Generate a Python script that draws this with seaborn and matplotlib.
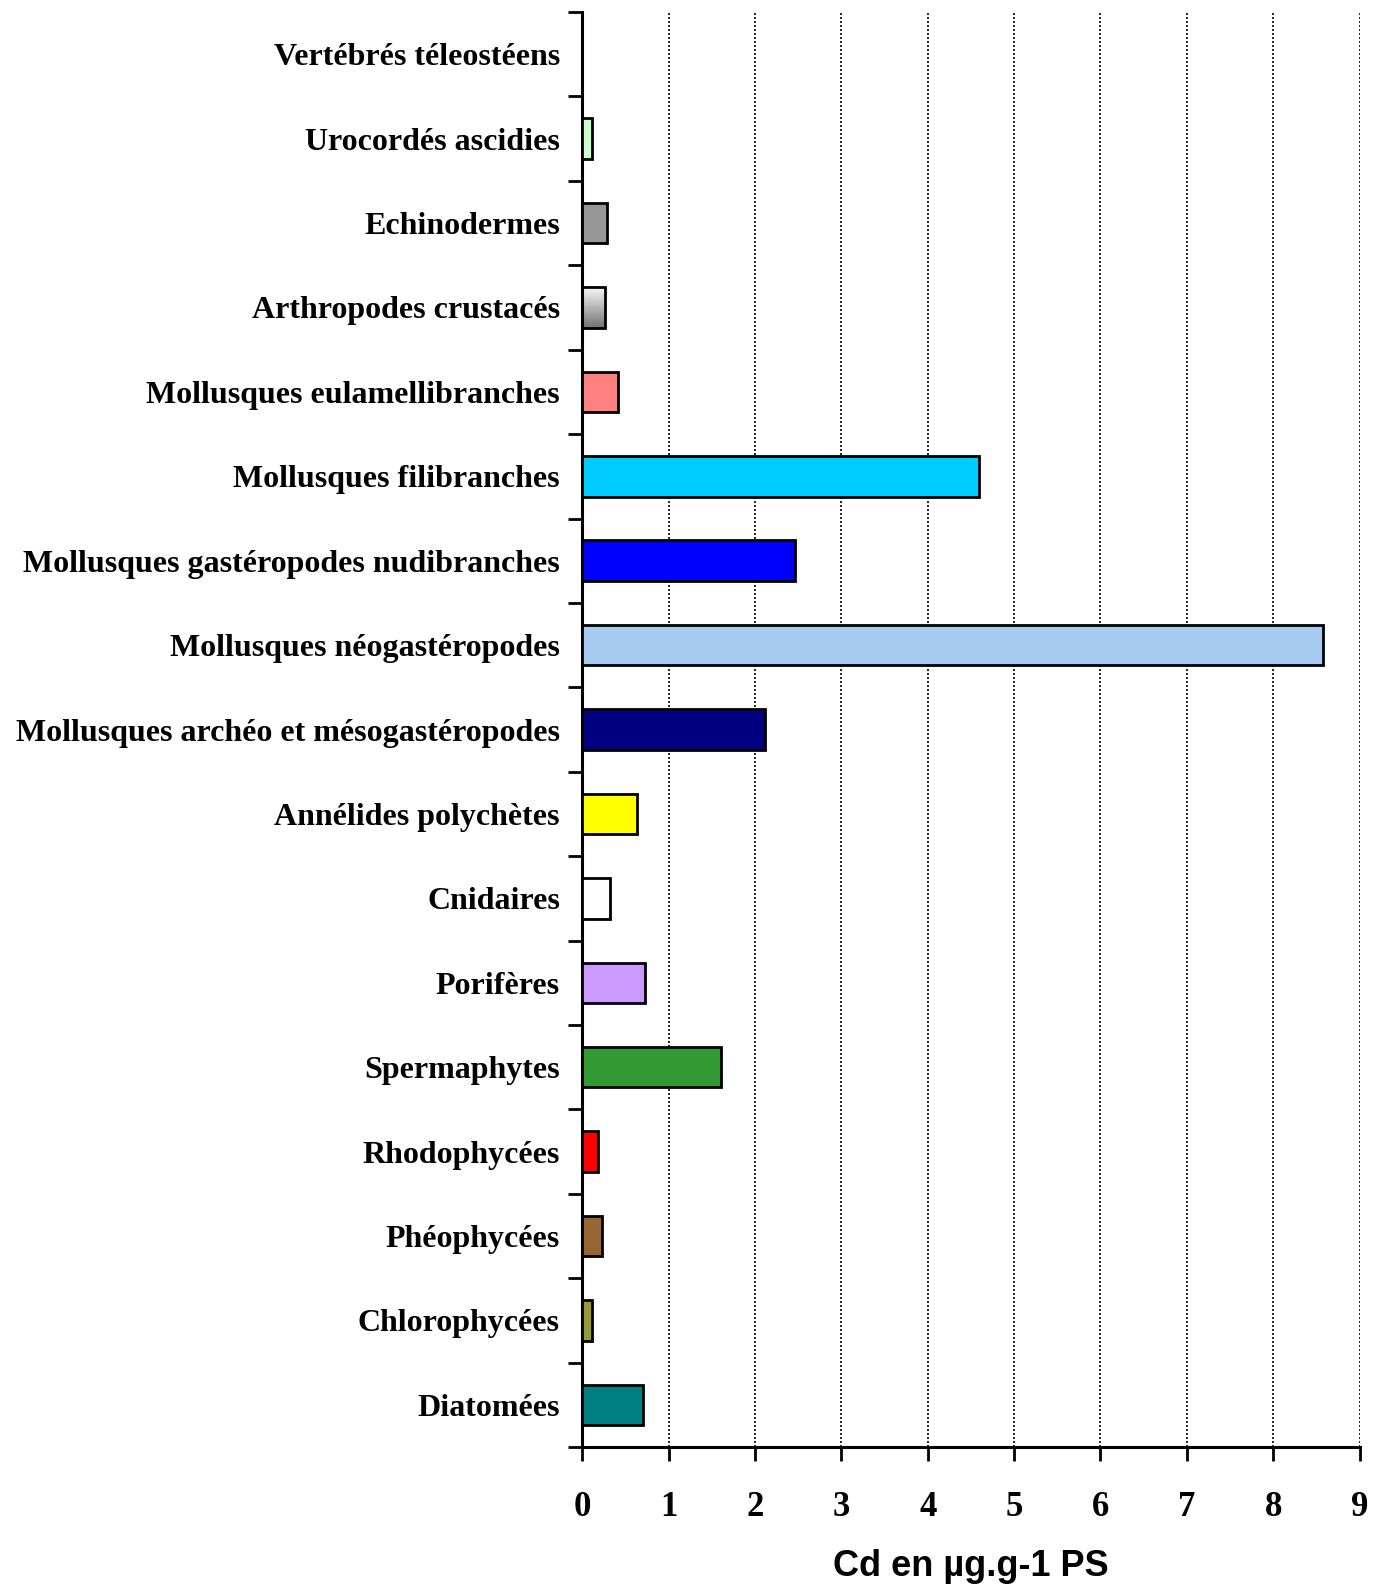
import numpy as np
import pandas as pd
import matplotlib
matplotlib.use("Agg")
import matplotlib.pyplot as plt
import seaborn as sns
from matplotlib.ticker import FixedLocator

categories = [
    "Vertébrés téleostéens",
    "Urocordés ascidies",
    "Echinodermes",
    "Arthropodes crustacés",
    "Mollusques eulamellibranches",
    "Mollusques filibranches",
    "Mollusques gastéropodes nudibranches",
    "Mollusques néogastéropodes",
    "Mollusques archéo et mésogastéropodes",
    "Annélides polychètes",
    "Cnidaires",
    "Porifères",
    "Spermaphytes",
    "Rhodophycées",
    "Phéophycées",
    "Chlorophycées",
    "Diatomées",
]
values = [0.0, 0.12, 0.29, 0.27, 0.41, 4.59, 2.46, 8.57, 2.12, 0.63, 0.32, 0.73, 1.61, 0.18, 0.23, 0.11, 0.71]
colors = ["#FFFFFF", "#CCFFCC", "#969696", "#C0C0C0", "#FF8080", "#00CCFF", "#0000FF",
          "#A6CAF0", "#000080", "#FFFF00", "#FFFFFF", "#CC99FF", "#339933", "#FF0000",
          "#996633", "#999933", "#008080"]
xticks = list(range(0, 10))
xlabel = "Cd en µg.g-1 PS"

df = pd.DataFrame({"cat": categories, "val": values})

sns.set_style("white")
plt.rcParams['font.family'] = ['Liberation Serif', 'DejaVu Serif']
plt.rcParams['text.color'] = 'black'
plt.rcParams['axes.labelcolor'] = 'black'
plt.rcParams['xtick.color'] = 'black'
plt.rcParams['ytick.color'] = 'black'

fig = plt.figure(figsize=(13.86, 15.87), dpi=100)
ax = fig.add_axes([0.42, 0.0882, 0.561, 0.9042])

sns.barplot(data=df, y="cat", x="val", hue="cat", palette=colors, order=categories,
            hue_order=categories, orient="h", width=0.48, edgecolor="black",
            linewidth=2, saturation=1, legend=False, ax=ax, zorder=3)

# Gradient for Arthropodes crustacés
idx = categories.index("Arthropodes crustacés")
for p in ax.patches:
    y0 = p.get_y()
    if abs(y0 + p.get_height() / 2 - idx) < 1e-6:
        p.set_facecolor("none")
        x0, w, h = p.get_x(), p.get_width(), p.get_height()
        grad = np.linspace(0.97, 0.45, 64).reshape(-1, 1)
        im = ax.imshow(grad, cmap="gray", vmin=0, vmax=1, aspect="auto",
                       extent=(x0, x0 + w, y0 + h, y0), zorder=2.5)
        im.set_clip_path(p)

ax.set_xlim(0, 9)
ax.set_ylim(16.5, -0.5)
ax.set_xticks(xticks)
ax.set_xticklabels([str(t) for t in xticks], fontsize=25, fontweight="bold")
ax.xaxis.grid(True, linestyle=(0, (1.2, 1.2)), color="black", linewidth=1.2, zorder=0)
ax.tick_params(axis="x", length=10, width=2, direction="out", pad=22, bottom=True)

ax.yaxis.set_minor_locator(FixedLocator(np.arange(-0.5, 17, 1)))
ax.tick_params(axis="y", which="major", length=0, pad=16, labelsize=23)
ax.tick_params(axis="y", which="minor", length=10, width=2, direction="out", left=True)
for lab in ax.get_yticklabels():
    lab.set_fontweight("bold")

for s in ["top", "right"]:
    ax.spines[s].set_visible(False)
for s in ["left", "bottom"]:
    ax.spines[s].set_linewidth(2.2)
    ax.spines[s].set_color("black")

ax.set_ylabel("")
ax.set_xlabel(xlabel, fontsize=26, fontweight="bold", labelpad=18,
              family=["Liberation Sans Narrow", "Liberation Sans", "DejaVu Sans"])

fig.savefig("out.png", dpi=100)
